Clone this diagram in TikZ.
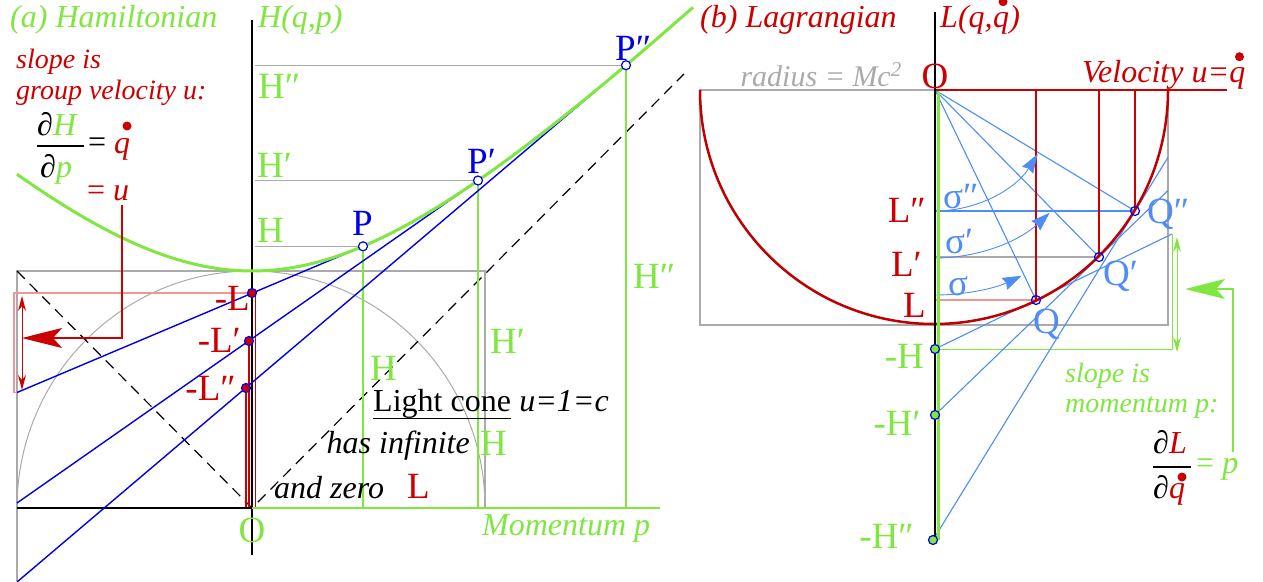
\documentclass[tikz,border=0pt]{standalone}
\usepackage{fontspec}
\setmainfont{Liberation Serif}
\usetikzlibrary{arrows.meta,calc}
\definecolor{grn}{RGB}{128,230,64}
\definecolor{rd}{RGB}{204,0,0}
\definecolor{drd}{RGB}{190,0,0}
\definecolor{pnk}{RGB}{240,150,150}
\definecolor{blu}{RGB}{0,0,230}
\definecolor{lblu}{RGB}{77,141,245}
\definecolor{gry}{RGB}{170,170,170}
\tikzset{
  txt/.style={inner sep=0pt, font=\fontsize{32}{38}\selectfont\itshape},
  sml/.style={inner sep=0pt, font=\fontsize{28}{32}\selectfont\itshape},
  big/.style={inner sep=0pt, font=\fontsize{37}{42}\selectfont},
  frc/.style={inner sep=0pt, font=\fontsize{32}{36}\selectfont},
  grayln/.style={draw=gry, line width=1.2},
  bl/.style={draw=blu, line width=1.4},
  lbl/.style={draw=lblu, line width=1.1},
  gv/.style={draw=grn, line width=1.6},
  dash45/.style={draw=black, line width=1.2, dash pattern=on 11pt off 7pt},
  bigarrow/.style={-{Stealth[length=40pt,width=20pt,inset=9pt]}},
  dblarrow/.style={{Stealth[length=15pt,width=8pt,inset=5pt]}-{Stealth[length=15pt,width=8pt,inset=5pt]}},
  sigarrow/.style={lbl, line width=0.9, -{Stealth[length=19pt,width=13pt,inset=2pt]}},
}
\begin{document}
\begin{tikzpicture}[x=1pt,y=-1pt]
\useasboundingbox (0,0) rectangle (1263,581);

% ================= (a) Hamiltonian =================
\coordinate (Oa) at (252,508);
\coordinate (P1) at (363,246.3);
\coordinate (P2) at (478,180.5);
\coordinate (P3) at (626,65.2);
\coordinate (A1) at (252,293);
\coordinate (A2) at (249,341);
\coordinate (A3) at (246,388);
\coordinate (E1) at (17,392.5);
\coordinate (E2) at (17,503);
\coordinate (E3) at (17,582);

% gray construction
\draw[grayln] (17,581) -- (17,271) -- (485,271) -- (485,508);
\draw[grayln] (255,65.2) -- (P3);
\draw[grayln] (255,180.5) -- (P2);
\draw[grayln] (255,246.3) -- (P1);
\draw[grayln, line width=1] (17,508) arc[start angle=180,end angle=360,x radius=234,y radius=237];

% pink slope box
\draw[pnk, line width=1.2] (A1) -- (14,293) -- (14,392.5) -- (E1);

% light cone
\draw[dash45] (17,271) -- (Oa) -- (684,74);

% green verticals
\draw[gv] (P1) -- (P1 |- Oa);
\draw[gv] (P2) -- (P2 |- Oa);
\draw[gv] (P3) -- (P3 |- Oa);

% red verticals
\draw[rd, line width=1.1] (255.5,293) -- (255.5,508);
\draw[rd, line width=1.1] (A2) -- (A2 |- Oa);
\draw[rd, line width=1.1] (A3) -- (A3 |- Oa);

% axes
\draw[black, line width=2] (252,20) -- (252,555);
\draw[black, line width=2] (17,508) -- (Oa);
\draw[grn, line width=2.2] (Oa) -- (660,508);

% tangents
\draw[bl] (E1) -- (P1);
\draw[bl] (E2) -- (P2);
\draw[bl] (E3) -- (P3);

% hyperbola
\draw[grn, line width=3] plot[domain=-235:441, samples=120] ({252+\x},{508-237*sqrt(1+(\x/237)^2)});

% red arrows
\draw[rd, line width=1.4, bigarrow] (122,205) -- (122,338) -- (22,338);
\draw[rd, line width=1, dblarrow] (22,296) -- (22,390);

% dots
\foreach \d in {A1,A2,A3} \filldraw[fill=rd, draw=blu, line width=1.2] (\d) circle[radius=4.5];
\foreach \d in {P1,P2,P3} \filldraw[fill=white, draw=blu, line width=1.2] (\d) circle[radius=4.5];

% texts (a)
\node[txt, text=grn, anchor=base west] (ta) at (10,27) {(a) Hamiltonian};
\node[txt, text=grn, anchor=base west] (tH) at (258,27) {H(q,p)};
\node[sml, text=rd, anchor=base west] (s1) at (16,68) {slope is};
\node[sml, text=rd, anchor=base west] (s2) at (16,99) {group velocity u:};
\node[frc, anchor=base west] (fn) at (37,135) {∂\textcolor{grn}{\itshape H}};
\draw[black, line width=1.2] (37,146) -- (84,146);
\node[frc, anchor=base west] (fd) at (40,177) {∂\textcolor{grn}{\itshape p}};
\node[frc, anchor=base west] (feq) at (88,152) {=};
\node[frc, text=rd, anchor=base west] (fq) at (114,153) {\itshape q};
\fill[rd] (127,126) circle[radius=4.5];
\node[frc, text=rd, anchor=base west] (fu) at (87,200) {= \itshape u};

\node[big, text=grn, anchor=base west] (h3) at (258,98) {H″};
\node[big, text=grn, anchor=base west] (h2) at (257,177) {H′};
\node[big, text=grn, anchor=base west] (h1) at (257,242) {H};
\node[big, text=blu, anchor=base west] (p1) at (352,235) {P};
\node[big, text=blu, anchor=base west] (p2) at (467,173) {P′};
\node[big, text=blu, anchor=base west] (p3) at (615,60) {P″};
\node[big, text=rd, anchor=base east] (l1) at (250,310) {-L};
\node[big, text=rd, anchor=base east] (l2) at (241,352) {-L′};
\node[big, text=rd, anchor=base east] (l3) at (236,400) {-L″};
\node[big, text=grn, anchor=base] (oa) at (252,542) {O};
\node[big, text=grn, anchor=base west] (hh1) at (370,380) {H};
\node[big, text=grn, anchor=base west] (hh2) at (490,353) {H′};
\node[big, text=grn, anchor=base west] (hh3) at (633,288) {H″};
\node[big, text=grn, anchor=base west] (hh4) at (480,455) {H};
\node[inner sep=0pt, font=\fontsize{32}{36}\selectfont, anchor=base west] (lc) at (373,411) {Light cone};
\draw[black, line width=1.2] (lc.south west) -- (lc.south east);
\node[txt, anchor=base west] (lc2) at ([xshift=8pt]lc.base east) {u=1=c};
\node[txt, anchor=base east] (hi) at (470,453) {has infinite};
\node[txt, anchor=base west] (az) at (274,498) {and zero};
\node[big, text=rd, anchor=base west] (azL) at (407,498) {L};
\node[txt, text=grn, anchor=base west] (mp) at (482,535) {Momentum p};

% ================= (b) Lagrangian =================
\coordinate (Ob) at (935,90);
\coordinate (Q1) at (1036,300);
\coordinate (Q2) at (1099,257);
\coordinate (Q3) at (1135,211);
\coordinate (N1) at (935,349);
\coordinate (N2) at (935,415);
\coordinate (N3) at (933,540);
\coordinate (F1) at (1172,234);
\coordinate (F2) at (1168,190.5);
\coordinate (F3) at (1168,157.3);

\draw[grayln] (700,90) rectangle (1168,325);
% green slope box
\draw[grn, line width=1] (N1) -- (1172,349) -- (1172,234);
\draw[grn, line width=1, dblarrow] (1177,237) -- (1177,352);
\draw[grn, line width=1.6, bigarrow] (1233,452) -- (1233,289) -- (1185,289);

% horizontal levels
\draw[pnk, line width=1.2] (Q1 -| Ob) -- (Q1);
\draw[grayln] (Q2 -| Ob) -- (Q2);
\draw[lbl] (Q3 -| Ob) -- (Q3);

% radii and tangents
\draw[lbl] (Ob) -- (Q1);
\draw[lbl] (Ob) -- (Q2);
\draw[lbl] (Ob) -- (Q3);
\draw[lbl] (N1) -- (F1);
\draw[lbl] (N2) -- (F2);
\draw[lbl] (N3) -- (F3);

% red velocity lines
\draw[rd, line width=1.4] (Q1) -- (Q1 |- Ob);
\draw[rd, line width=1.4] (Q2) -- (Q2 |- Ob);
\draw[rd, line width=1.4] (Q3) -- (Q3 |- Ob);
\draw[rd, line width=1.5] (Ob) -- (1227,90);
\draw[drd, line width=2.5] (700,90) arc[start angle=180,end angle=0,radius=234];

% sigma arcs
\draw[sigarrow] (935,295) arc[start angle=90,end angle=65,radius=205];
\draw[sigarrow] (935,258) arc[start angle=90,end angle=47,radius=168];
\draw[sigarrow] (935,211) arc[start angle=90,end angle=32,radius=121];

% axis
\draw[black, line width=2] (935,12) -- (935,540);
\draw[grn, line width=3] (938.5,92) -- (938.5,540);

% dots
\foreach \d in {Q1,Q2,Q3} \draw[blu, line width=1.2] (\d) circle[radius=4.5];
\foreach \d in {N1,N2,N3} \filldraw[fill=grn, draw=blu, line width=1.2] (\d) circle[radius=4.5];

% texts (b)
\node[txt, text=rd, anchor=base west] (tb) at (700,27) {(b) Lagrangian};
\node[txt, text=rd, anchor=base west] (lqa) at (940,27) {L(q,};
\node[txt, text=rd, anchor=base west] (lqb) at (lqa.base east) {q};
\node[txt, text=rd, anchor=base west] (lqc) at (lqb.base east) {)};
\fill[rd] ($(lqb.north)+(2,-10)$) circle[radius=4.5];
\node[inner sep=0pt, font=\fontsize{30}{34}\selectfont\itshape, text=gry, anchor=base east] (rad) at (902,86) {radius = Mc\textsuperscript{2}};
\node[big, text=rd, anchor=base] (ob) at (935,88) {O};
\node[txt, text=rd, anchor=base west] (vel) at (1082,82) {Velocity u=};
\node[txt, text=rd, anchor=base west] (velq) at (vel.base east) {q};
\fill[rd] ($(velq.north)+(2,-10)$) circle[radius=4.5];

\node[big, text=rd, anchor=base east] (bl3) at (926,222) {L″};
\node[big, text=rd, anchor=base east] (bl2) at (922,276) {L′};
\node[big, text=rd, anchor=base east] (bl1) at (926,317) {L};
\node[big, text=grn, anchor=base east] (bh1) at (924,368) {-H};
\node[big, text=grn, anchor=base east] (bh2) at (921,435) {-H′};
\node[big, text=grn, anchor=base east] (bh3) at (914,548) {-H″};
\node[big, text=lblu, anchor=base west] (bq1) at (1033,333) {Q};
\node[big, text=lblu, anchor=base west] (bq2) at (1103,285) {Q′};
\node[big, text=lblu, anchor=base west] (bq3) at (1147,223) {Q″};
\node[big, text=lblu, anchor=base west] (sg3) at (943,208) {σ″};
\node[big, text=lblu, anchor=base west] (sg2) at (945,253) {σ′};
\node[big, text=lblu, anchor=base west] (sg1) at (948,295) {σ};
\node[sml, text=grn, anchor=base west] (bs1) at (1065,382) {slope is};
\node[sml, text=grn, anchor=base west] (bs2) at (1065,412) {momentum p:};
\node[frc, anchor=base west] (gn) at (1153,453) {∂\textcolor{rd}{\itshape L}};
\draw[black, line width=1.2] (1153,467) -- (1191,467);
\node[frc, anchor=base west] (gd) at (1153,498) {∂\textcolor{rd}{\itshape q}};
\fill[rd] (1182,477) circle[radius=4.5];
\node[frc, text=grn, anchor=base west] (geq) at (1196,473) {= \itshape p};
\end{tikzpicture}
\end{document}
